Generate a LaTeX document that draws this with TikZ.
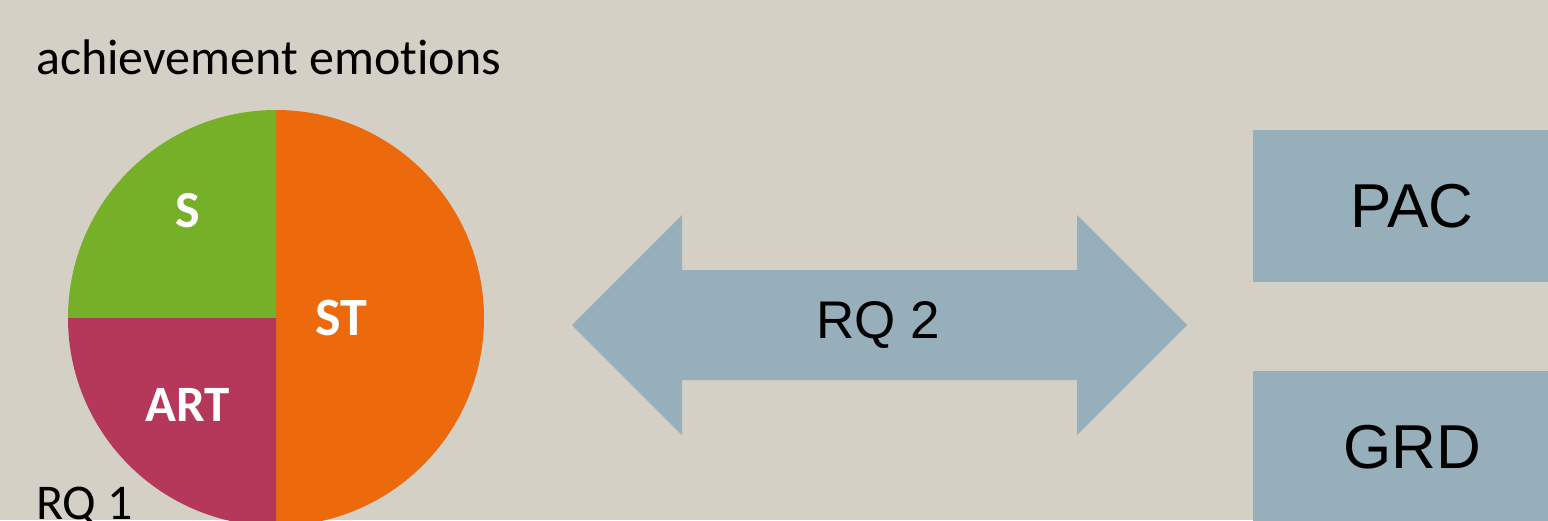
\documentclass[tikz,border=0pt]{standalone}
\usepackage{fontspec}
\setmainfont{Carlito}[Ligatures=NoCommon]
\newfontfamily\arialfont{Liberation Sans}
\definecolor{bg}{HTML}{D4D0C5}
\definecolor{pgreen}{HTML}{76AF28}
\definecolor{pred}{HTML}{B5375A}
\definecolor{porange}{HTML}{EC690C}
\definecolor{pblue}{HTML}{97AFBB}
\tikzset{
  pielabel/.style={text=white, font=\bfseries\fontsize{52}{60}\selectfont, inner sep=0pt},
  bluebox/.style={fill=pblue, draw=none, minimum width=318pt, minimum height=152pt, inner sep=0pt, font=\arialfont\fontsize{62}{70}\selectfont},
  plaintext/.style={font=\fontsize{50}{58}\selectfont, inner sep=0pt, text=black}
}
\begin{document}
\begin{tikzpicture}[x=1pt,y=-1pt]
\fill[bg] (0,0) rectangle (1548,520);
\useasboundingbox (0,0) rectangle (1548,520);
\clip (0,0) rectangle (1548,520);
% pie
\coordinate (pc) at (276,318);
\fill[porange] (pc) -- (276,110) arc[start angle=90, end angle=-90, radius=208pt] -- cycle;
\fill[pgreen] (pc) -- (276,110) arc[start angle=90, end angle=180, radius=208pt] -- cycle;
\fill[pred] (pc) -- (68,318) arc[start angle=180, end angle=270, radius=208pt] -- cycle;
\node[pielabel] (s) at (188,211) {S};
\node[pielabel, font=\bfseries\fontsize{54}{60}\selectfont] (st) at (341,318) {ST};
\node[pielabel, font=\bfseries\fontsize{51}{60}\selectfont] (art) at (188,405) {ART};
\node[plaintext, anchor=base west] (title) at (36,74) {achievement emotions};
\node[plaintext, anchor=base west] (rq1) at (36,519) {RQ 1};
% double arrow
\fill[pblue] (572,325) -- (682,215) -- (682,270) -- (1077,270) -- (1077,215) -- (1187,325)
  -- (1077,435) -- (1077,380) -- (682,380) -- (682,435) -- cycle;
\node[font=\arialfont\fontsize{53}{60}\selectfont, inner sep=0pt] (rq2) at (878,325) {RQ 2};
% boxes
\node[bluebox] (pac) at (1412,206) {PAC};
\node[bluebox] (grd) at (1412,447) {GRD};
\end{tikzpicture}
\end{document}
